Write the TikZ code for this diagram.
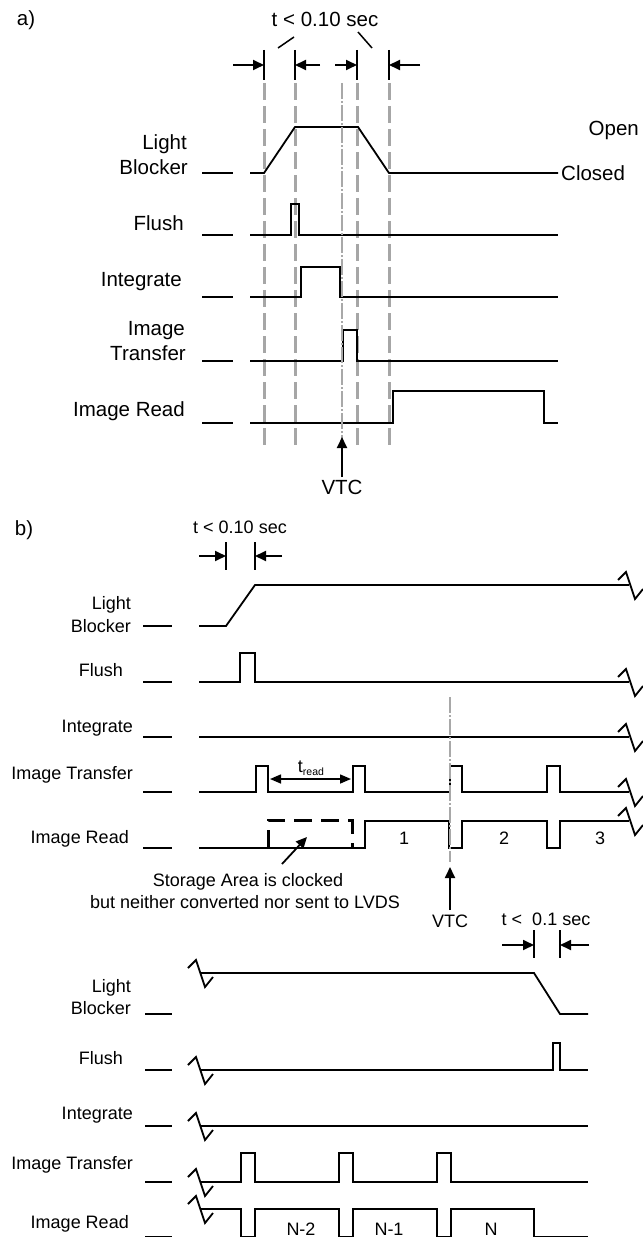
\documentclass[tikz,border=0pt]{standalone}
\usepackage{fontspec}
\setmainfont{Liberation Sans}
\usetikzlibrary{arrows.meta}
\begin{document}
\begin{tikzpicture}[x=1pt,y=-1pt,
  sig/.style={line width=1.8pt, line join=miter, black},
  fa/.style={font=\fontsize{20.5}{24}\selectfont, inner sep=0pt},
  fb/.style={font=\fontsize{18}{21}\selectfont, inner sep=0pt},
  la/.style={fa, anchor=base east},
  lb/.style={fb, anchor=base east},
  gdash/.style={line width=3pt, color=gray!70, dash pattern=on 17pt off 6pt},
  gdashdot/.style={line width=2.5pt, color=gray!68, dash pattern=on 16pt off 2pt on 2pt off 2pt},
  arr/.style={line width=1.8pt, -{Triangle[length=11pt,width=10pt]}},
  tick/.style={line width=1.8pt},
  boxdash/.style={line width=3pt, dash pattern=on 18pt off 9pt},
  zz/.pic={\draw[sig, line join=miter] (-11,-5) -- (-3,-13) -- (6,14) -- (14,4);}
]
\useasboundingbox (0,0) rectangle (642,1238);

% ================= part a =================
\node[fa] (lab_a) at (26,20) {a)};
\node[fa, anchor=base] (ta) at (325,27) {t < 0.10 sec};
\coordinate (sl1a) at (278,48); \coordinate (sl1b) at (294,37);
\coordinate (sl2a) at (358,32); \coordinate (sl2b) at (372,48);
\draw[line width=1.5pt] (sl1a) -- (sl1b);
\draw[line width=1.5pt] (sl2a) -- (sl2b);

% grey guide lines
\foreach \x in {264,295,357,389} \draw[gdash] (\x,83) -- (\x,448);

% ticks and arrows
\foreach \x in {264,295,357,389} \draw[tick] (\x,50) -- (\x,80);
\coordinate (a1s) at (233,65); \coordinate (a1e) at (264,65);
\coordinate (a2s) at (320,65); \coordinate (a2e) at (295,65);
\coordinate (a3s) at (335,65); \coordinate (a3e) at (357,65);
\coordinate (a4s) at (420,65); \coordinate (a4e) at (389,65);
\draw[arr] (a1s) -- (a1e);
\draw[arr] (a2s) -- (a2e);
\draw[arr] (a3s) -- (a3e);
\draw[arr] (a4s) -- (a4e);

% Light Blocker
\node[la] (lba1) at (187,149.5) {Light};
\node[la] (lba2) at (188,174.5) {Blocker};
\draw[sig] (202,173) -- (233,173);
\draw[sig] (250,173) -- (264,173) -- (295,127) -- (358,127) -- (389,173) -- (558,173);
\node[fa, anchor=base east] (open) at (639,135.5) {Open};
\node[fa, anchor=base west] (closed) at (561,180.5) {Closed};

% Flush
\node[la] (fla) at (184,230.5) {Flush};
\draw[sig] (202,235) -- (233,235);
\draw[sig] (250,235) -- (291,235) -- (291,204) -- (299,204) -- (299,235) -- (558,235);

% Integrate
\node[la] (ina) at (182,286.5) {Integrate};
\draw[sig] (202,297) -- (233,297);
\draw[sig] (250,297) -- (301,297) -- (301,267) -- (340,267) -- (340,297) -- (558,297);

% Image Transfer
\node[la] (ita1) at (185,335.5) {Image};
\node[la] (ita2) at (186,360.5) {Transfer};
\draw[sig] (202,361) -- (233,361);
\draw[sig] (250,361) -- (343,361) -- (343,330) -- (357,330) -- (357,361) -- (558,361);

% Image Read
\node[la] (ira) at (185,416.5) {Image Read};
\draw[sig] (202,423) -- (233,423);
\draw[sig] (250,423) -- (393,423) -- (393,391) -- (544,391) -- (544,423) -- (558,423);

% VTC
\draw[gdashdot] (342,83) -- (342,440);
\node[fa, anchor=base] (vtca) at (342,494.5) {VTC};
\coordinate (vtcatip) at (342,437);
\draw[arr] (342,477) -- (vtcatip);

% ================= part b =================
\node[fa] (lab_b) at (24,530) {b)};
\node[fb, anchor=base] (tb) at (240,533.5) {t < 0.10 sec};
\draw[tick] (226,542) -- (226,570);
\draw[tick] (255,542) -- (255,570);
\coordinate (b1s) at (199,556); \coordinate (b1e) at (226,556);
\coordinate (b2s) at (282,556); \coordinate (b2e) at (255,556);
\draw[arr] (b1s) -- (b1e);
\draw[arr] (b2s) -- (b2e);

% Light Blocker
\node[lb] (lbb1) at (131,609.5) {Light};
\node[lb] (lbb2) at (131,632.5) {Blocker};
\draw[sig] (143,626) -- (172,626);
\draw[sig] (199,626) -- (226,626) -- (255,585) -- (629,585);
\pic at (629,585) {zz};

% Flush
\node[lb] (flb) at (123,676.5) {Flush};
\draw[sig] (143,682) -- (172,682);
\draw[sig] (199,682) -- (240,682) -- (240,653) -- (255,653) -- (255,682) -- (629,682);
\pic at (629,682) {zz};

% Integrate
\node[lb] (inb) at (133,732.5) {Integrate};
\draw[sig] (143,737) -- (172,737);
\draw[sig] (199,737) -- (629,737);
\pic at (629,737) {zz};

% Image Transfer
\node[lb] (itb) at (133,779.5) {Image Transfer};
\draw[sig] (143,792) -- (172,792);
\draw[sig] (199,792) -- (256,792) -- (256,766) -- (268,766) -- (268,792)
  -- (353,792) -- (353,766) -- (365,766) -- (365,792)
  -- (450,792) -- (450,766) -- (462,766) -- (462,792)
  -- (547,792) -- (547,766) -- (560,766) -- (560,792) -- (629,792);
\pic at (629,792) {zz};

% t_read
\coordinate (trs) at (270,779); \coordinate (tre) at (351,779);
\draw[line width=1.5pt, {Triangle[length=11pt,width=9pt]}-{Triangle[length=11pt,width=9pt]}] (trs) -- (tre);
\node[fb, anchor=base] (tread) at (311,772) {t\raisebox{-0.35ex}{\fontsize{10.5}{11}\selectfont read}};

% Image Read
\node[lb] (irb) at (129,843.5) {Image Read};
\draw[sig] (143,848) -- (172,848);
\draw[sig] (199,848) -- (365,848) -- (365,821) -- (449,821) -- (449,848)
  -- (462,848) -- (462,821) -- (547,821) -- (547,848) -- (560,848) -- (560,821) -- (629,821);
\pic at (629,821) {zz};
\node[fb] (n1) at (404,838) {1};
\node[fb] (n2) at (504,838) {2};
\node[fb] (n3) at (600,838) {3};

% dashed storage box
\draw[boxdash] (268,848) -- (268,820) -- (352,820) -- (352,848);
\coordinate (sts) at (282,864); \coordinate (ste) at (307,837);
\draw[arr] (sts) -- (ste);
\node[fb, anchor=base] (st1) at (248,886.5) {Storage Area is clocked};
\node[fb, anchor=base] (st2) at (245,908.5) {but neither converted nor sent to LVDS};

% VTC b
\draw[gdashdot] (450,697) -- (450,862);
\node[fb, anchor=base] (vtcb) at (450,927.5) {VTC};
\coordinate (vtcbtip) at (450,867);
\draw[arr] (450,910) -- (vtcbtip);

% t < 0.1 sec
\node[fb, anchor=base] (tc) at (546,925.5) {t <\ \ 0.1 sec};
\draw[tick] (534,930) -- (534,958);
\draw[tick] (560,930) -- (560,958);
\coordinate (c1s) at (502,945); \coordinate (c1e) at (534,945);
\coordinate (c2s) at (589,945); \coordinate (c2e) at (560,945);
\draw[arr] (c1s) -- (c1e);
\draw[arr] (c2s) -- (c2e);

% Light Blocker (2)
\node[lb] (lbc1) at (131,992.5) {Light};
\node[lb] (lbc2) at (131,1014.5) {Blocker};
\draw[sig] (145,1014) -- (172,1014);
\pic at (199,973) {zz};
\draw[sig] (201,973) -- (534,973) -- (560,1014) -- (588,1014);

% Flush (2)
\node[lb] (flc) at (123,1064.5) {Flush};
\draw[sig] (145,1070) -- (172,1070);
\pic at (199,1070) {zz};
\draw[sig] (201,1070) -- (553,1070) -- (553,1043) -- (560,1043) -- (560,1070) -- (588,1070);

% Integrate (2)
\node[lb] (inc) at (133,1119.5) {Integrate};
\draw[sig] (145,1126) -- (172,1126);
\pic at (199,1126) {zz};
\draw[sig] (201,1126) -- (588,1126);

% Image Transfer (2)
\node[lb] (itc) at (133,1169.5) {Image Transfer};
\draw[sig] (145,1182) -- (172,1182);
\pic at (199,1182) {zz};
\draw[sig] (201,1182) -- (241,1182) -- (241,1153) -- (255,1153) -- (255,1182)
  -- (339,1182) -- (339,1153) -- (353,1153) -- (353,1182)
  -- (437,1182) -- (437,1153) -- (451,1153) -- (451,1182) -- (588,1182);

% Image Read (2)
\node[lb] (irc) at (129,1228.5) {Image Read};
\draw[sig] (145,1236.5) -- (172,1236.5);
\pic at (199,1209) {zz};
\draw[sig] (201,1209) -- (241,1209) -- (241,1236.5) -- (255,1236.5) -- (255,1209)
  -- (339,1209) -- (339,1236.5) -- (353,1236.5) -- (353,1209)
  -- (437,1209) -- (437,1236.5) -- (451,1236.5) -- (451,1209)
  -- (534,1209) -- (534,1236.5) -- (588,1236.5);
\node[fb] (nm2) at (301,1229) {N-2};
\node[fb] (nm1) at (389,1229) {N-1};
\node[fb] (nn) at (491,1229) {N};
\end{tikzpicture}
\end{document}
